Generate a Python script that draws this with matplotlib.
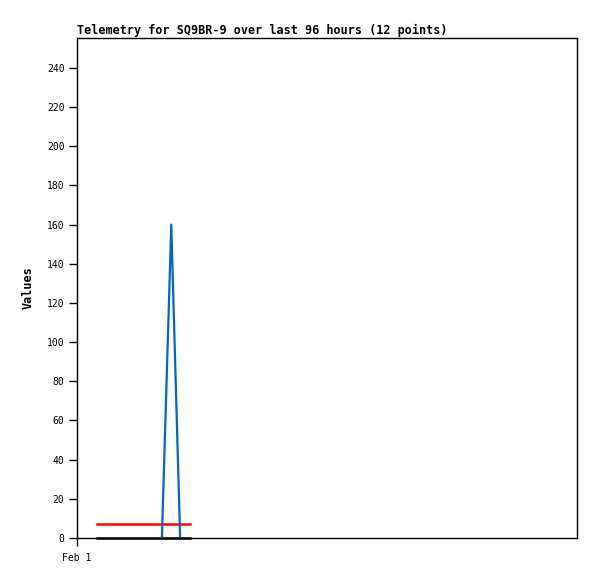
import matplotlib
matplotlib.use('Agg')
import matplotlib.pyplot as plt

# Data (hours since Feb 1 00:00, last 96 hours)
TITLE = 'Telemetry for SQ9BR-9 over last 96 hours (12 points)'
blue_hours = [16.3, 18.1, 19.8]
blue_values = [0, 160, 0]
red_hours = [3.85, 21.7]
red_values = [7, 7]
black_hours = [3.85, 21.7]
black_values = [0, 0]
y_ticks = list(range(0, 241, 20))
x_ticks = [0]
x_tick_labels = ['Feb 1']

plt.rcParams['font.family'] = ['DejaVu Sans Mono']

fig = plt.figure(figsize=(5.97, 5.79), dpi=100)
ax = fig.add_axes([77 / 597, 41 / 579, 500 / 597, 500 / 579])

ax.plot(black_hours, black_values, color='black', lw=1.8, clip_on=False)
ax.plot(red_hours, red_values, color='#ff0000', lw=1.8)
ax.plot(blue_hours, blue_values, color='#0066cc', lw=1.6)

ax.set_xlim(0, 96)
ax.set_ylim(0, 255.3)
ax.set_yticks(y_ticks)
ax.set_xticks(x_ticks)
ax.set_xticklabels(x_tick_labels)
ax.tick_params(axis='both', labelsize=7, length=6, width=1, color='black')
ax.tick_params(axis='y', pad=3)
ax.tick_params(axis='x', pad=5)
for s in ax.spines.values():
    s.set_linewidth(1)
    s.set_color('black')

ax.set_ylabel('Values', fontsize=8.5, fontweight='bold', labelpad=9)
ax.set_title(TITLE, fontsize=8.45, fontweight='bold', loc='left', pad=3)

fig.savefig('out.png', dpi=100)
